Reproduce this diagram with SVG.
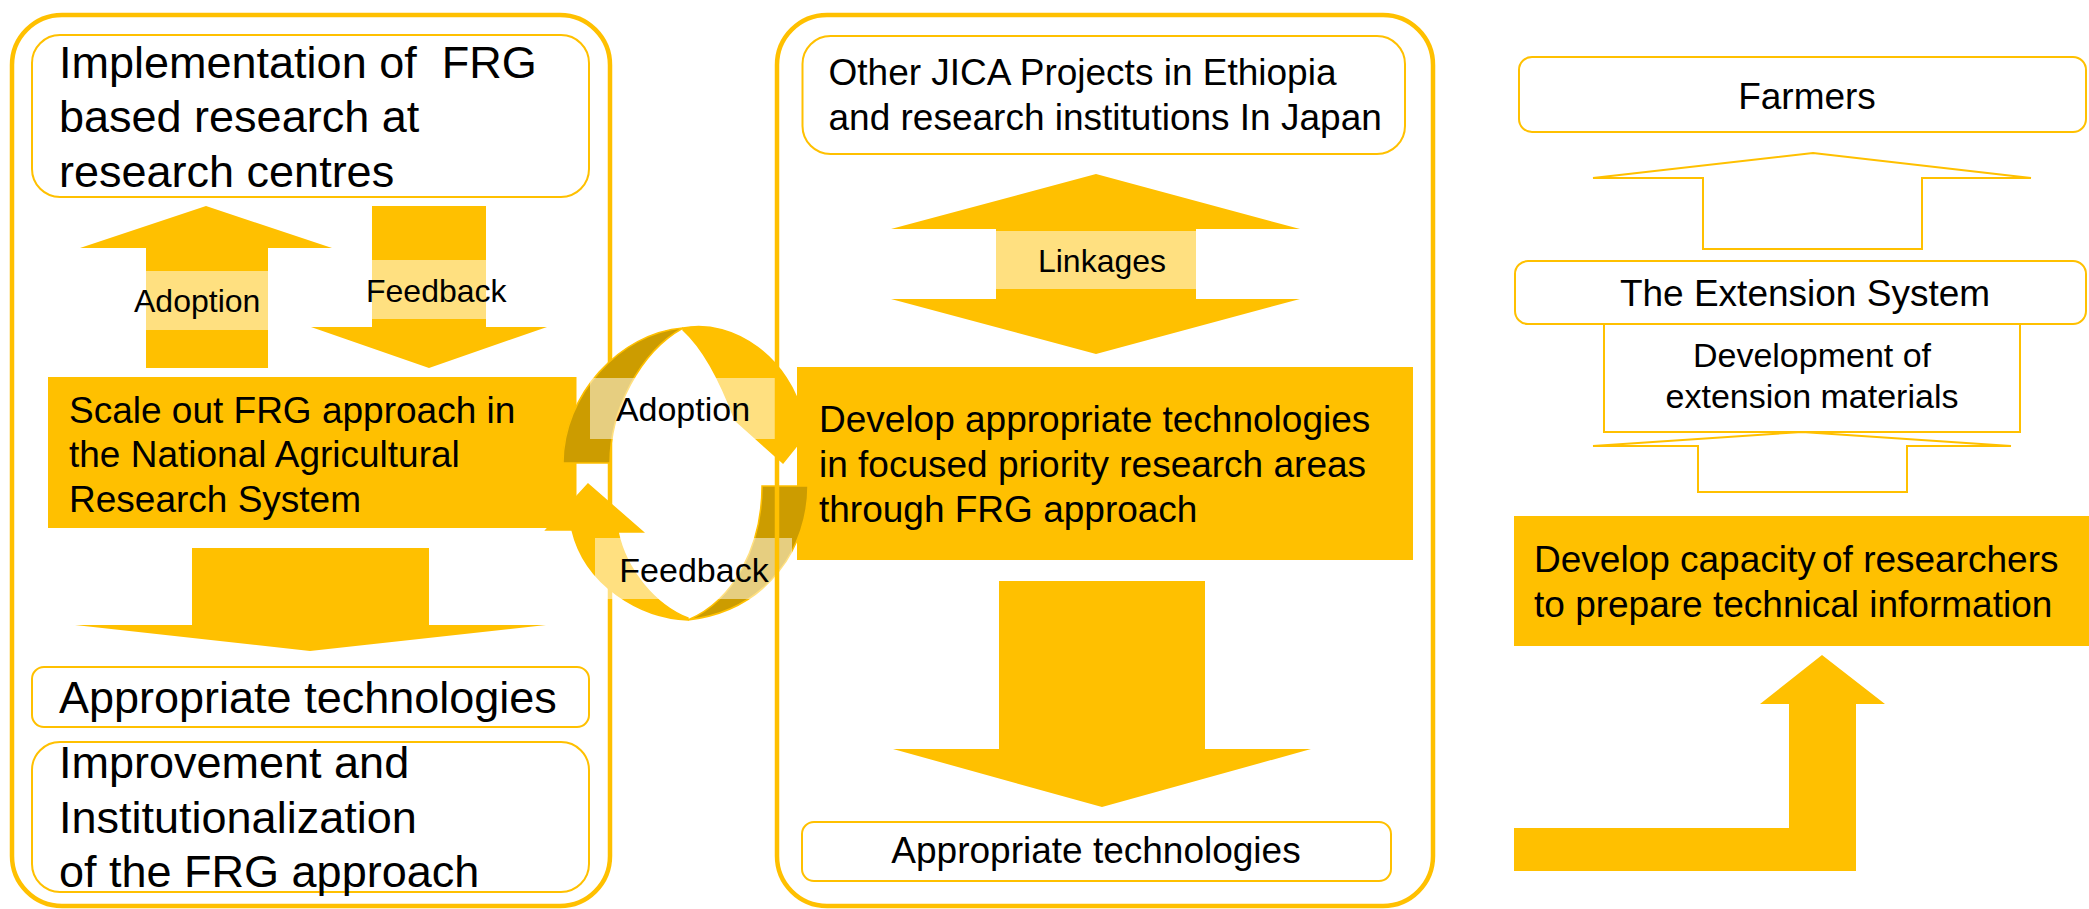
<svg xmlns="http://www.w3.org/2000/svg" width="2089" height="909" viewBox="0 0 2089 909">
<style>
  text { font-family: "Liberation Sans", Arial, sans-serif; fill: #000; }
  .panel { fill: none; stroke: #FFC000; stroke-width: 4.5; }
  .box { fill: #fff; stroke: #FFC000; stroke-width: 2; }
  .solid { fill: #FFC000; stroke: none; }
  .outline { fill: #fff; stroke: #FFC000; stroke-width: 2; }
  .band { fill: #fff; fill-opacity: 0.5; }
  .dark { fill: #CC9C00; stroke: #FFC000; stroke-width: 1.5; }
  .bright { fill: #FFC000; stroke: #FFC000; stroke-width: 1.5; }
  .f45 { font-size: 45px; }
  .f37 { font-size: 37px; }
  .f34 { font-size: 34px; }
  .f32 { font-size: 32px; }
  .mid { text-anchor: middle; }
</style>
<rect width="2089" height="909" fill="#fff"/>

<!-- Left panel -->
<g id="left-panel">
  <rect class="panel" x="12" y="15" width="598" height="891" rx="50"/>
</g>
<g id="implementation">
  <rect class="box" x="32" y="35" width="557" height="162" rx="28"/>
  <text class="f45" x="59" y="78" xml:space="preserve">Implementation of  FRG</text>
  <text class="f45" x="59" y="132">based research at</text>
  <text class="f45" x="59" y="187">research centres</text>
</g>
<g id="scale-out">
  <rect class="solid" x="48" y="377" width="528.5" height="151"/>
  <text class="f37" x="69" y="423">Scale out FRG approach in</text>
  <text class="f37" x="69" y="467">the National Agricultural</text>
  <text class="f37" x="69" y="512">Research System</text>
</g>
<g id="appropriate-left">
  <rect class="box" x="32" y="667" width="557" height="60" rx="12"/>
  <text class="f45" x="59" y="713">Appropriate technologies</text>
</g>
<g id="improvement">
  <rect class="box" x="32" y="742" width="557" height="150" rx="28"/>
  <text class="f45" x="59" y="778">Improvement and</text>
  <text class="f45" x="59" y="833">Institutionalization</text>
  <text class="f45" x="59" y="887">of the FRG approach</text>
</g>

<!-- Middle panel contents -->
<g id="jica">
  <rect class="box" x="802.5" y="36" width="602.5" height="118" rx="28"/>
  <text class="f37" x="828.5" y="85">Other JICA Projects in Ethiopia</text>
  <text class="f37" x="828.5" y="130">and research institutions In Japan</text>
</g>
<g id="develop-tech">
  <rect class="solid" x="797" y="367" width="616" height="193"/>
  <text class="f37" x="819" y="432">Develop appropriate technologies</text>
  <text class="f37" x="819" y="477">in focused priority research areas</text>
  <text class="f37" x="819" y="522">through FRG approach</text>
</g>
<g id="appropriate-middle">
  <rect class="box" x="802" y="822" width="589" height="59" rx="12"/>
  <text class="f37 mid" x="1096" y="863">Appropriate technologies</text>
</g>

<!-- Right column -->
<g id="farmers">
  <rect class="box" x="1519" y="57" width="567" height="75" rx="13"/>
  <text class="f37 mid" x="1807" y="109">Farmers</text>
</g>
<g id="dev-materials">
  <path class="outline" d="M1604,324 V432 H2020 V324"/>
  <text class="f34 mid" x="1812" y="367">Development of</text>
  <text class="f34 mid" x="1812" y="408">extension materials</text>
</g>
<g id="extension">
  <rect class="box" x="1515" y="261" width="571" height="63" rx="13"/>
  <text class="f37 mid" x="1805" y="306">The Extension System</text>
</g>
<g id="capacity">
  <rect class="solid" x="1514" y="516" width="580" height="130"/>
  <text class="f37" x="1534" y="572">Develop capacity<tspan x="1822">of researchers</tspan></text>
  <text class="f37" x="1534" y="617">to prepare technical information</text>
</g>

<!-- Connectors (block arrows) -->
<g id="connectors">
  <!-- left panel -->
  <polygon class="solid" points="206,206 332,248 268,248 268,368 146,368 146,248 80,248"/>
  <rect class="band" x="146" y="271" width="122" height="59"/>
  <text class="f32" x="134" y="312">Adoption</text>
  <polygon class="solid" points="372,206 486,206 486,327 547,327 429,368 311,327 372,327"/>
  <rect class="band" x="372" y="260" width="114" height="59"/>
  <text class="f32" x="366" y="302">Feedback</text>
  <polygon class="solid" points="192,548 429,548 429,625 546,625 310,651 75,625 192,625"/>
  <!-- middle panel -->
  <polygon class="solid" points="1096,174 1300,229 1196,229 1196,299 1300,299 1096,354 891,299 996,299 996,229 891,229"/>
  <rect class="band" x="996" y="231" width="200" height="58"/>
  <text class="f32 mid" x="1102" y="272">Linkages</text>
  <polygon class="solid" points="999,581 1205,581 1205,749 1311,749 1102,807 893,749 999,749"/>
  <!-- right column -->
  <polygon class="outline" points="1813,153 2031,178 1922,178 1922,249 1703,249 1703,178 1593,178"/>
  <polygon class="outline" points="1802,432 2011,446 1907,446 1907,492 1698,492 1698,446 1593,446"/>
  <polygon class="solid" points="1514,828 1789,828 1789,704 1760,704 1822,655 1885,704 1856,704 1856,871 1514,871"/>
  <!-- cycle between panels -->
  <path class="dark" d="M563,463 C563,395 620,333 683,328 C640,352 610,410 610,463 Z"/>
  <path class="bright" d="M683,328 C735,318 790,360 803,417 L820,417 L783,463 L735,420 C722,385 705,350 683,330 Z"/>
  <path class="dark" d="M762,486 L808,486 C808,545 770,610 688,620 C735,600 762,545 762,486 Z"/>
  <path class="bright" d="M688,620 C640,618 585,585 572,530 L546,530 L588,484 L643,532 L618,532 C626,570 655,605 688,618 Z"/>
  <rect class="band" x="590" y="378" width="186" height="61"/>
  <rect class="band" x="595" y="538" width="197" height="61"/>
  <text class="f34 mid" x="683" y="421">Adoption</text>
  <text class="f34 mid" x="694" y="582">Feedback</text>
</g>

<g id="middle-panel">
  <rect class="panel" x="777" y="15" width="656" height="891" rx="50"/>
</g>
</svg>
